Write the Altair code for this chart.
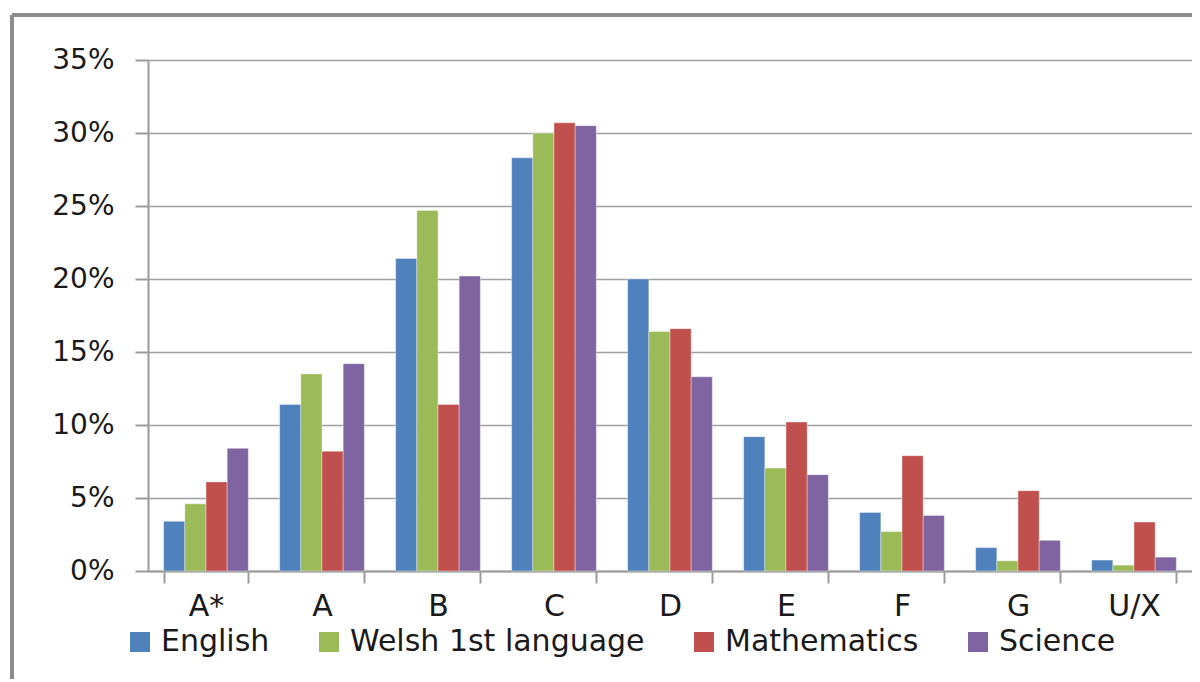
import altair as alt
import pandas as pd

grades = ["A*", "A", "B", "C", "D", "E", "F", "G", "U/X"]
subjects = ["English", "Welsh 1st language", "Mathematics", "Science"]
colors = ["#4F81BD", "#9BBB59", "#C0504D", "#8064A2"]

english = [3.4, 11.4, 21.4, 28.3, 20.0, 9.2, 4.0, 1.6, 0.75]
welsh = [4.6, 13.5, 24.7, 30.0, 16.4, 7.05, 2.7, 0.7, 0.4]
maths = [6.1, 8.2, 11.4, 30.7, 16.6, 10.2, 7.9, 5.5, 3.35]
science = [8.4, 14.2, 20.2, 30.5, 13.3, 6.6, 3.8, 2.1, 0.95]

series = [english, welsh, maths, science]
rows = []
for s, vals in zip(subjects, series):
    for g, v in zip(grades, vals):
        rows.append({"grade": g, "subject": s, "value": v / 100.0})
df = pd.DataFrame(rows)

FONT = "DejaVu Sans"

bars = alt.Chart(df).mark_bar(stroke="white", strokeWidth=0.6, strokeOpacity=0.6).encode(
    x=alt.X("grade:N", sort=grades, title=None,
            scale=alt.Scale(paddingInner=0.27, paddingOuter=0.135),
            axis=alt.Axis(labelAngle=0, tickBand="extent", labelFontSize=30,
                          labelFont=FONT, labelColor="#1a1a1a", labelPadding=8,
                          tickSize=12, tickColor="#9a9a9a", tickWidth=2,
                          domainColor="#9a9a9a", domainWidth=2, grid=False)),
    xOffset=alt.XOffset("subject:N", sort=subjects, scale=alt.Scale(paddingInner=0, paddingOuter=0)),
    y=alt.Y("value:Q", title=None,
            scale=alt.Scale(domain=[0, 0.35], nice=False),
            axis=alt.Axis(values=[0, 0.05, 0.10, 0.15, 0.20, 0.25, 0.30, 0.35], format=".0%",
                          labelFontSize=28, labelFont=FONT, labelColor="#1a1a1a",
                          labelPadding=21, tickSize=13, tickColor="#9a9a9a", tickWidth=2,
                          domainColor="#9a9a9a", domainWidth=2,
                          grid=True, gridColor="#a0a0a0", gridWidth=1.6)),
    color=alt.Color("subject:N", sort=subjects,
                    scale=alt.Scale(domain=subjects, range=colors),
                    legend=alt.Legend(title=None, orient="none", direction="horizontal",
                                      legendX=-23, legendY=567, symbolType="square",
                                      symbolSize=400, symbolStrokeWidth=0,
                                      labelFontSize=30, labelFont=FONT, labelColor="#1a1a1a",
                                      labelLimit=500, labelOffset=6, columnPadding=44)),
)

border_top = alt.Chart(df).mark_rule(color="#8c8c8c", strokeWidth=2.5, clip=False).encode(
    x=alt.value(-136), x2=alt.value(1100), y=alt.value(-45)
)
border_left = alt.Chart(df).mark_rule(color="#8c8c8c", strokeWidth=2.5, clip=False).encode(
    x=alt.value(-136), y=alt.value(-45), y2=alt.value(640)
)

chart = alt.layer(bars, border_top, border_left).properties(
    width=1044, height=511,
    autosize=alt.AutoSizeParams(type="none"),
    padding={"left": 140, "top": 52, "right": 0, "bottom": 108},
).configure_view(stroke=None).configure(background="white")

chart.save("out.html", embed_options={"renderer": "svg", "actions": False})
